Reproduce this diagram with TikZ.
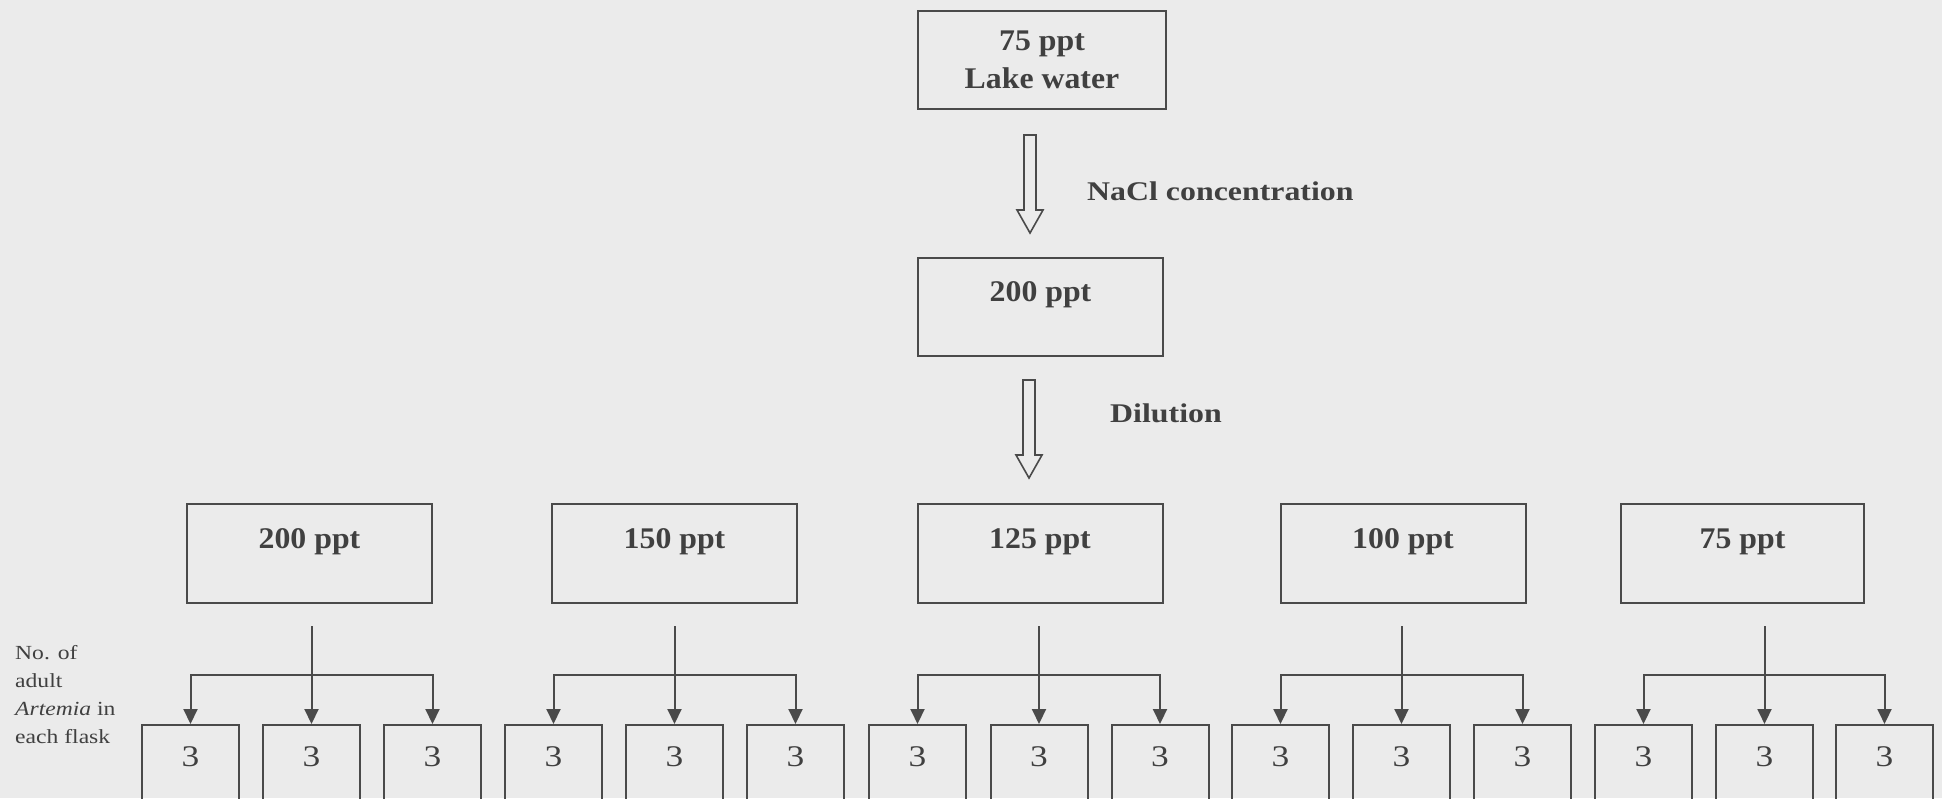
\documentclass[tikz,border=0pt]{standalone}
\usepackage{fontspec}
\setmainfont{Liberation Serif}
\newfontfamily\boxfont[FakeStretch=1.06]{Liberation Serif}
\newfontfamily\wordfont[FakeStretch=1.18]{Liberation Serif}
\usetikzlibrary{arrows.meta,calc}
\definecolor{paper}{HTML}{EBEBEB}
\definecolor{ink}{HTML}{4A4A4A}
\definecolor{inktext}{HTML}{404040}
\tikzset{
  boxbase/.style={draw=ink, line width=2pt, inner sep=0pt, minimum width=245pt, minimum height=98pt,
    text=inktext, font=\boxfont\bfseries\fontsize{30}{38}\selectfont},
  tank/.style={boxbase, text height=20pt, text depth=31pt},
  flask/.style={draw=ink, line width=2pt, inner sep=0pt, anchor=north, minimum width=97pt, minimum height=90pt,
    text height=20pt, text depth=28pt, text=inktext, font=\wordfont\fontsize{30}{36}\selectfont},
  feed/.style={draw=ink, line width=2pt, >={Triangle[width=14pt,length=15pt]}},
  hollow/.style={draw=ink, line width=1.6pt, line join=miter},
  sidelabel/.style={anchor=base west, inner sep=0pt, text=inktext, font=\wordfont\bfseries\fontsize{27}{32}\selectfont}
}
\newcommand\bigarrow[1]{\draw[hollow] (#1) ++(-6,0) -- ++(0,75) -- ++(-7,0) -- ++(13,23) -- ++(13,-23) -- ++(-7,0) -- ++(0,-75) -- cycle;}

\begin{document}
\begin{tikzpicture}[x=1pt, y=-1pt]
\useasboundingbox (0,0) rectangle (1942,798);
\fill[paper] (0,0) rectangle (1942,798);

\node[boxbase, align=center, minimum width=248pt] (lake) at (1042,60) {75 ppt\\Lake water};
\coordinate (a1) at (1030,135);
\bigarrow{a1}
\node[sidelabel] (nacl) at (1087,200) {NaCl concentration};

\node[tank] (conc) at (1040.5,307) {200 ppt};
\coordinate (a2) at (1029,380);
\bigarrow{a2}
\node[sidelabel] (dil) at (1110,422) {Dilution};

\node[tank, minimum height=99pt] (t200) at (309.5,553.5) {200 ppt};
\node[tank, minimum height=99pt] (t150) at (674.5,553.5) {150 ppt};
\node[tank, minimum height=99pt] (t125) at (1040,553.5) {125 ppt};
\node[tank, minimum height=99pt] (t100) at (1403,553.5) {100 ppt};
\node[tank, minimum height=99pt, minimum width=243pt] (t75) at (1742.5,553.5) {75 ppt};

\node[anchor=north west, inner sep=0pt, align=left, text=inktext, font=\wordfont\fontsize{20}{28}\selectfont]
  (perflask) at (15,645) {No. of\\adult\\\textit{Artemia} in\\each flask};

\node[flask] (f1) at (190.5,724) {3};
\node[flask] (f2) at (311.5,724) {3};
\node[flask] (f3) at (432.5,724) {3};
\node[flask] (f4) at (553.5,724) {3};
\node[flask] (f5) at (674.5,724) {3};
\node[flask] (f6) at (795.5,724) {3};
\node[flask] (f7) at (917.5,724) {3};
\node[flask] (f8) at (1039,724) {3};
\node[flask] (f9) at (1160,724) {3};
\node[flask] (f10) at (1280.5,724) {3};
\node[flask] (f11) at (1401.5,724) {3};
\node[flask] (f12) at (1522.5,724) {3};
\node[flask] (f13) at (1643.5,724) {3};
\node[flask] (f14) at (1764.5,724) {3};
\node[flask] (f15) at (1884.5,724) {3};

\draw[feed,->] ($(f2.north)+(0,-98)$) -- (f2.north);
\draw[feed,<->] (f1.north) -- ++(0,-49) -| (f3.north);
\draw[feed,->] ($(f5.north)+(0,-98)$) -- (f5.north);
\draw[feed,<->] (f4.north) -- ++(0,-49) -| (f6.north);
\draw[feed,->] ($(f8.north)+(0,-98)$) -- (f8.north);
\draw[feed,<->] (f7.north) -- ++(0,-49) -| (f9.north);
\draw[feed,->] ($(f11.north)+(0,-98)$) -- (f11.north);
\draw[feed,<->] (f10.north) -- ++(0,-49) -| (f12.north);
\draw[feed,->] ($(f14.north)+(0,-98)$) -- (f14.north);
\draw[feed,<->] (f13.north) -- ++(0,-49) -| (f15.north);
\end{tikzpicture}
\end{document}
